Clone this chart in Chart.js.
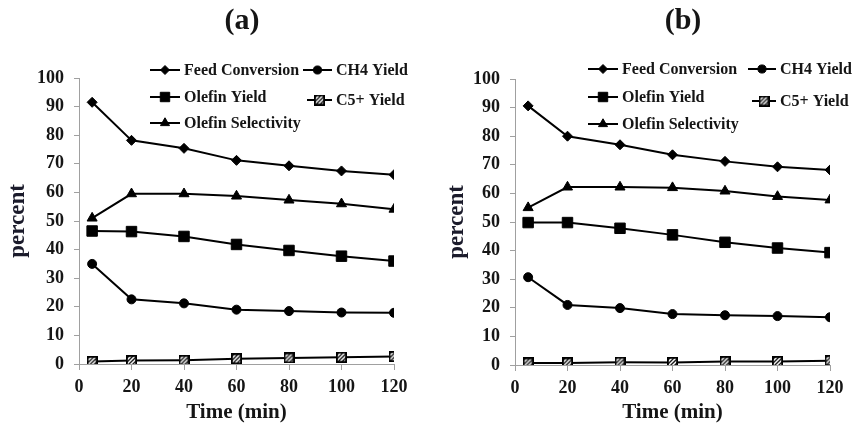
<!DOCTYPE html>
<html>
<head>
<meta charset="utf-8">
<script src="https://cdn.jsdelivr.net/npm/chart.js@4.4.1/dist/chart.umd.min.js"></script>
<style>
html, body { margin: 0; padding: 0; background: #fff; }
#wrap { position: relative; width: 855px; height: 425px; }
.panel { position: absolute; top: 0; }
</style>
</head>
<body>
<div id="wrap">
  <div class="panel" style="left:0"><canvas id="chart_a" width="427" height="425"></canvas></div>
  <div class="panel" style="left:428px"><canvas id="chart_b" width="427" height="425"></canvas></div>
</div>
<script>
// time on stream (min)
const times = [5, 20, 40, 60, 80, 100, 120];
const seriesNames = ['Feed Conversion', 'CH4 Yield', 'Olefin Yield', 'C5+ Yield', 'Olefin Selectivity'];

// panel (a)
const a_feedConversion = [91.5, 78.2, 75.4, 71.2, 69.3, 67.5, 66.2];
const a_ch4Yield = [35.0, 22.6, 21.2, 19.0, 18.5, 18.0, 17.9];
const a_olefinYield = [46.5, 46.3, 44.6, 41.8, 39.7, 37.7, 36.0];
const a_c5Yield = [0.9, 1.2, 1.3, 1.8, 2.1, 2.4, 2.6];
const a_olefinSelectivity = [51.0, 59.5, 59.5, 58.7, 57.3, 56.0, 54.1];

// panel (b)
const b_feedConversion = [90.6, 80.0, 77.0, 73.5, 71.2, 69.3, 68.2];
const b_ch4Yield = [30.7, 21.0, 19.9, 17.8, 17.4, 17.1, 16.7];
const b_olefinYield = [49.8, 49.8, 47.8, 45.5, 42.9, 40.9, 39.3];
const b_c5Yield = [0.7, 0.7, 1.0, 0.9, 1.2, 1.2, 1.5];
const b_olefinSelectivity = [55.0, 62.2, 62.2, 62.0, 60.8, 58.9, 57.7];

const yTicks = { min: 0, max: 100, step: 10 };
const xTicks = { min: 0, max: 120, step: 20 };

const textColor = '#151515';
const axisColor = '#a0a0a0';
const serif = "'Liberation Serif', 'Times New Roman', serif";

// hatched square marker for C5+
function hatchMarker(size) {
    const c = document.createElement('canvas');
    c.width = size; c.height = size;
    const g = c.getContext('2d');
    g.fillStyle = '#fff';
    g.fillRect(0, 0, size, size);
    g.strokeStyle = '#111';
    g.lineWidth = 1.3;
    for (let k = -size; k < size * 2; k += 4) {
        g.beginPath(); g.moveTo(k, size); g.lineTo(k + size, 0); g.stroke();
    }
    g.strokeStyle = '#000';
    g.lineWidth = 1.8;
    g.strokeRect(0.9, 0.9, size - 1.8, size - 1.8);
    return c;
}
const hatch = hatchMarker(11);

const markerStyles = {
    'Feed Conversion': { pointStyle: 'rectRot', radius: 5 },
    'CH4 Yield': { pointStyle: 'circle', radius: 4.5 },
    'Olefin Yield': { pointStyle: 'rect', radius: 7.4 },
    'C5+ Yield': { pointStyle: hatch, radius: 5 },
    'Olefin Selectivity': { pointStyle: 'triangle', radius: 5.8 }
};

function makeDatasets(values) {
    return seriesNames.map((name, i) => ({
        label: name,
        data: times.map((t, j) => ({ x: t, y: values[i][j] })),
        borderColor: '#000',
        backgroundColor: '#000',
        borderWidth: 2,
        pointStyle: markerStyles[name].pointStyle,
        pointRadius: markerStyles[name].radius,
        pointBackgroundColor: '#000',
        pointBorderColor: '#000',
        pointBorderWidth: 1,
        tension: 0
    }));
}

// draws the panel letter and the two-column legend on the canvas
const panelDecor = {
    id: 'panelDecor',
    afterDraw(chart, args, opts) {
        const ctx = chart.ctx;
        ctx.save();
        ctx.fillStyle = textColor;
        ctx.font = 'bold 30px ' + serif;
        ctx.textAlign = 'center';
        ctx.textBaseline = 'middle';
        ctx.fillText(opts.title, opts.titleX, opts.titleY);

        ctx.font = 'bold 16px ' + serif;
        ctx.textAlign = 'left';
        opts.legend.forEach(item => {
            ctx.strokeStyle = '#000';
            ctx.lineWidth = 2;
            ctx.beginPath();
            ctx.moveTo(item.x1, item.y);
            ctx.lineTo(item.x2, item.y);
            ctx.stroke();
            const m = markerStyles[item.name];
            ctx.fillStyle = '#000';
            ctx.lineWidth = 1;
            Chart.helpers.drawPoint(ctx, { pointStyle: m.pointStyle, radius: m.radius * 0.9, rotation: 0, borderWidth: 1 },
                (item.x1 + item.x2) / 2, item.y);
            ctx.fillStyle = textColor;
            ctx.fillText(item.name, item.x2 + 4, item.y + 1);
        });
        ctx.restore();
    }
};

function makeChart(canvas, values, p) {
    return new Chart(canvas, {
        type: 'line',
        data: { datasets: makeDatasets(values) },
        plugins: [panelDecor],
        options: {
            responsive: false,
            animation: false,
            layout: { padding: { top: p.top, right: p.right, bottom: 0, left: 0 } },
            plugins: {
                legend: { display: false },
                tooltip: { enabled: false },
                panelDecor: { title: p.title, titleX: p.titleX, titleY: 21, legend: p.legend }
            },
            scales: {
                x: {
                    type: 'linear',
                    min: xTicks.min,
                    max: xTicks.max,
                    afterFit: s => { s.height = p.xHeight; },
                    ticks: { stepSize: xTicks.step, color: textColor, padding: 7, font: { family: serif, size: 18, weight: 'bold' } },
                    grid: { drawOnChartArea: false, tickLength: 6, color: axisColor },
                    border: { color: axisColor, width: 1 },
                    title: {
                        display: true, text: 'Time (min)', color: textColor,
                        font: { family: serif, size: 21, weight: 'bold' },
                        padding: { top: 0, bottom: 0 }
                    }
                },
                y: {
                    min: yTicks.min,
                    max: yTicks.max,
                    afterFit: s => { s.width = p.yWidth; },
                    ticks: { stepSize: yTicks.step, color: textColor, padding: 10, font: { family: serif, size: 18, weight: 'bold' } },
                    grid: { drawOnChartArea: false, tickLength: 5, color: axisColor },
                    border: { color: axisColor, width: 1 },
                    title: {
                        display: true, text: 'percent', color: '#1b1b2b',
                        font: { family: serif, size: 23, weight: 'bold' },
                        padding: { top: p.yTitlePad, bottom: 0 }
                    }
                }
            }
        }
    });
}

makeChart(document.getElementById('chart_a'),
    [a_feedConversion, a_ch4Yield, a_olefinYield, a_c5Yield, a_olefinSelectivity],
    {
        title: '(a)', titleX: 242, top: 78, right: 33, xHeight: 61, yWidth: 79, yTitlePad: 4,
        legend: [
            { name: 'Feed Conversion', x1: 150, x2: 180, y: 70 },
            { name: 'CH4 Yield', x1: 303, x2: 332, y: 70 },
            { name: 'Olefin Yield', x1: 150, x2: 180, y: 97 },
            { name: 'C5+ Yield', x1: 307, x2: 332, y: 100 },
            { name: 'Olefin Selectivity', x1: 150, x2: 180, y: 123 }
        ]
    });

makeChart(document.getElementById('chart_b'),
    [b_feedConversion, b_ch4Yield, b_olefinYield, b_c5Yield, b_olefinSelectivity],
    {
        title: '(b)', titleX: 255, top: 79, right: 25, xHeight: 60, yWidth: 87, yTitlePad: 15,
        legend: [
            { name: 'Feed Conversion', x1: 160, x2: 190, y: 69 },
            { name: 'CH4 Yield', x1: 320, x2: 348, y: 69 },
            { name: 'Olefin Yield', x1: 160, x2: 190, y: 97 },
            { name: 'C5+ Yield', x1: 324, x2: 348, y: 101 },
            { name: 'Olefin Selectivity', x1: 160, x2: 190, y: 124 }
        ]
    });
</script>
</body>
</html>
